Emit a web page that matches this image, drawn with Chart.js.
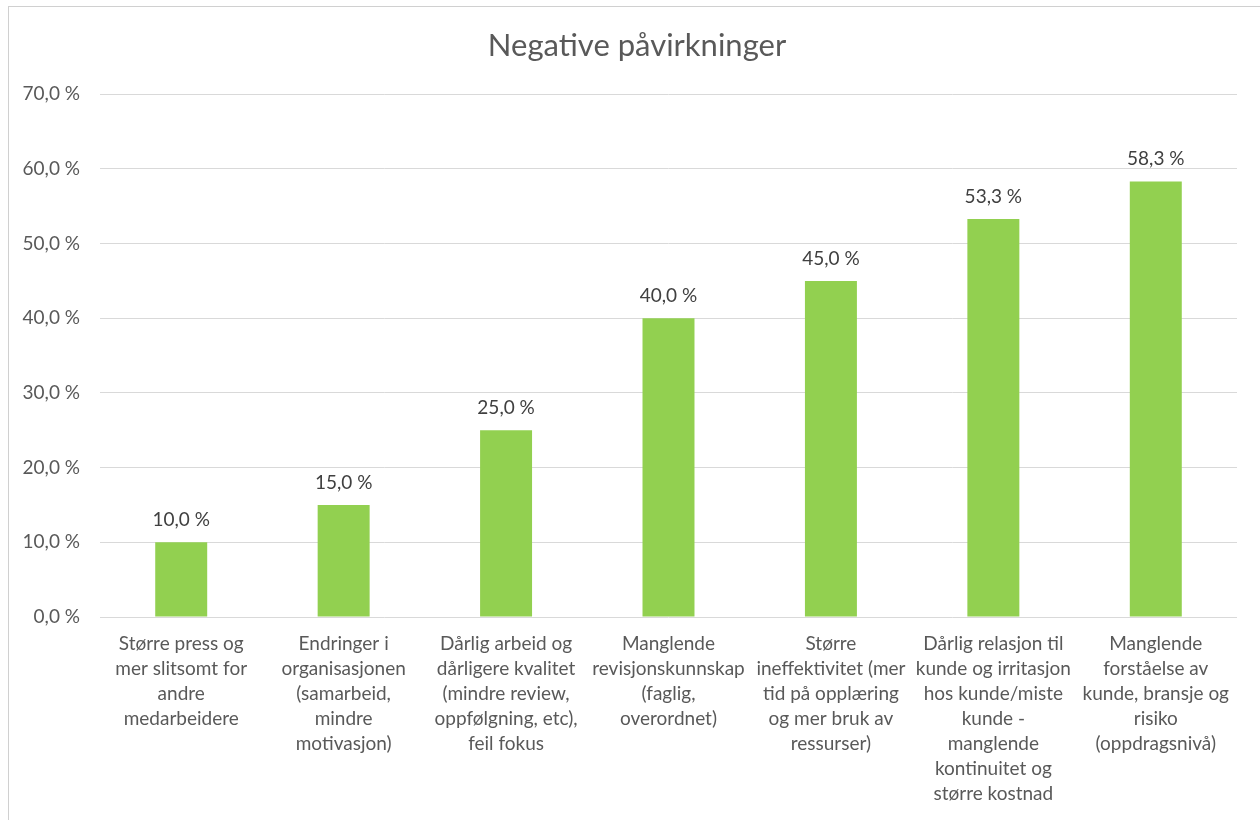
<!DOCTYPE html>
<html>
<head>
<meta charset="utf-8">
<script src="https://cdn.jsdelivr.net/npm/chart.js@4.4.1/dist/chart.umd.min.js"></script>
<style>
  body { margin: 0; background: #fff; }
  #wrap { position: relative; width: 1260px; height: 820px; overflow: hidden; }
  #frame { position: absolute; left: 8px; top: 6px; width: 1260px; height: 830px; border: 1px solid #d0d0d0; box-sizing: border-box; pointer-events: none; }
  canvas { position: absolute; left: 0; top: 0; }
</style>
</head>
<body>
<div id="wrap">
  <canvas id="myChart" width="1260" height="820"></canvas>
  <div id="frame"></div>
</div>
<script>
var categories = [
  ['Større press og', 'mer slitsomt for', 'andre', 'medarbeidere'],
  ['Endringer i', 'organisasjonen', '(samarbeid,', 'mindre', 'motivasjon)'],
  ['Dårlig arbeid og', 'dårligere kvalitet', '(mindre review,', 'oppfølgning, etc),', 'feil fokus'],
  ['Manglende', 'revisjonskunnskap', '(faglig,', 'overordnet)'],
  ['Større', 'ineffektivitet (mer', 'tid på opplæring', 'og mer bruk av', 'ressurser)'],
  ['Dårlig relasjon til', 'kunde og irritasjon', 'hos kunde/miste', 'kunde -', 'manglende', 'kontinuitet og', 'større kostnad'],
  ['Manglende', 'forståelse av', 'kunde, bransje og', 'risiko', '(oppdragsnivå)']
];
var values = [10.0, 15.0, 25.0, 40.0, 45.0, 53.3, 58.3];
var yTicks = [0, 10, 20, 30, 40, 50, 60, 70];

var pct = function(v) {
  return v.toFixed(1).replace('.', ',') + ' %';
};

// value labels above each bar
var barLabels = {
  id: 'barLabels',
  afterDatasetsDraw: function(chart) {
    var ctx = chart.ctx;
    var meta = chart.getDatasetMeta(0);
    ctx.save();
    ctx.font = '19px Lato';
    ctx.fillStyle = '#404040';
    ctx.textAlign = 'center';
    ctx.textBaseline = 'bottom';
    meta.data.forEach(function(bar, i) {
      ctx.fillText(pct(values[i]), bar.x, bar.y - 13);
    });
    ctx.restore();
  }
};

// nudge the title a bit to the right, so it sits centred in the frame
var titleShift = {
  id: 'titleShift',
  afterLayout: function(chart) {
    if (chart.titleBlock) chart.titleBlock.left += 37;
  }
};

var ctx = document.getElementById('myChart').getContext('2d');
var config = {
  type: 'bar',
  data: {
    labels: categories,
    datasets: [
      {
        data: values,
        backgroundColor: '#92d050',
        categoryPercentage: 1,
        barPercentage: 0.32
      }
    ]
  },
  options: {
    responsive: false,
    animation: false,
    layout: { padding: { left: 0, right: 23, top: 0, bottom: 0 } },
    plugins: {
      legend: { display: false },
      tooltip: { enabled: false },
      title: {
        display: true,
        text: 'Negative påvirkninger',
        color: '#595959',
        font: { family: 'Lato', size: 31, weight: 'normal' },
        padding: { top: 27, bottom: 30 }
      }
    },
    scales: {
      x: {
        grid: { display: false },
        border: { display: false },
        ticks: {
          color: '#595959',
          font: { family: 'Lato', size: 19, lineHeight: 1.32 },
          padding: 6,
          maxRotation: 0,
          autoSkip: false
        },
        afterFit: function(scale) { scale.height = 203; }
      },
      y: {
        min: 0,
        max: 70,
        afterBuildTicks: function(scale) {
          scale.ticks = yTicks.map(function(v) { return { value: v }; });
        },
        grid: { color: '#d9d9d9', lineWidth: 1, drawTicks: false },
        border: { display: false },
        ticks: {
          color: '#595959',
          font: { family: 'Lato', size: 19 },
          padding: 20,
          callback: function(v) { return pct(v); }
        },
        afterFit: function(scale) { scale.width = 100; }
      }
    }
  },
  plugins: [barLabels, titleShift]
};
var myChart = new Chart(ctx, config);
</script>
</body>
</html>
